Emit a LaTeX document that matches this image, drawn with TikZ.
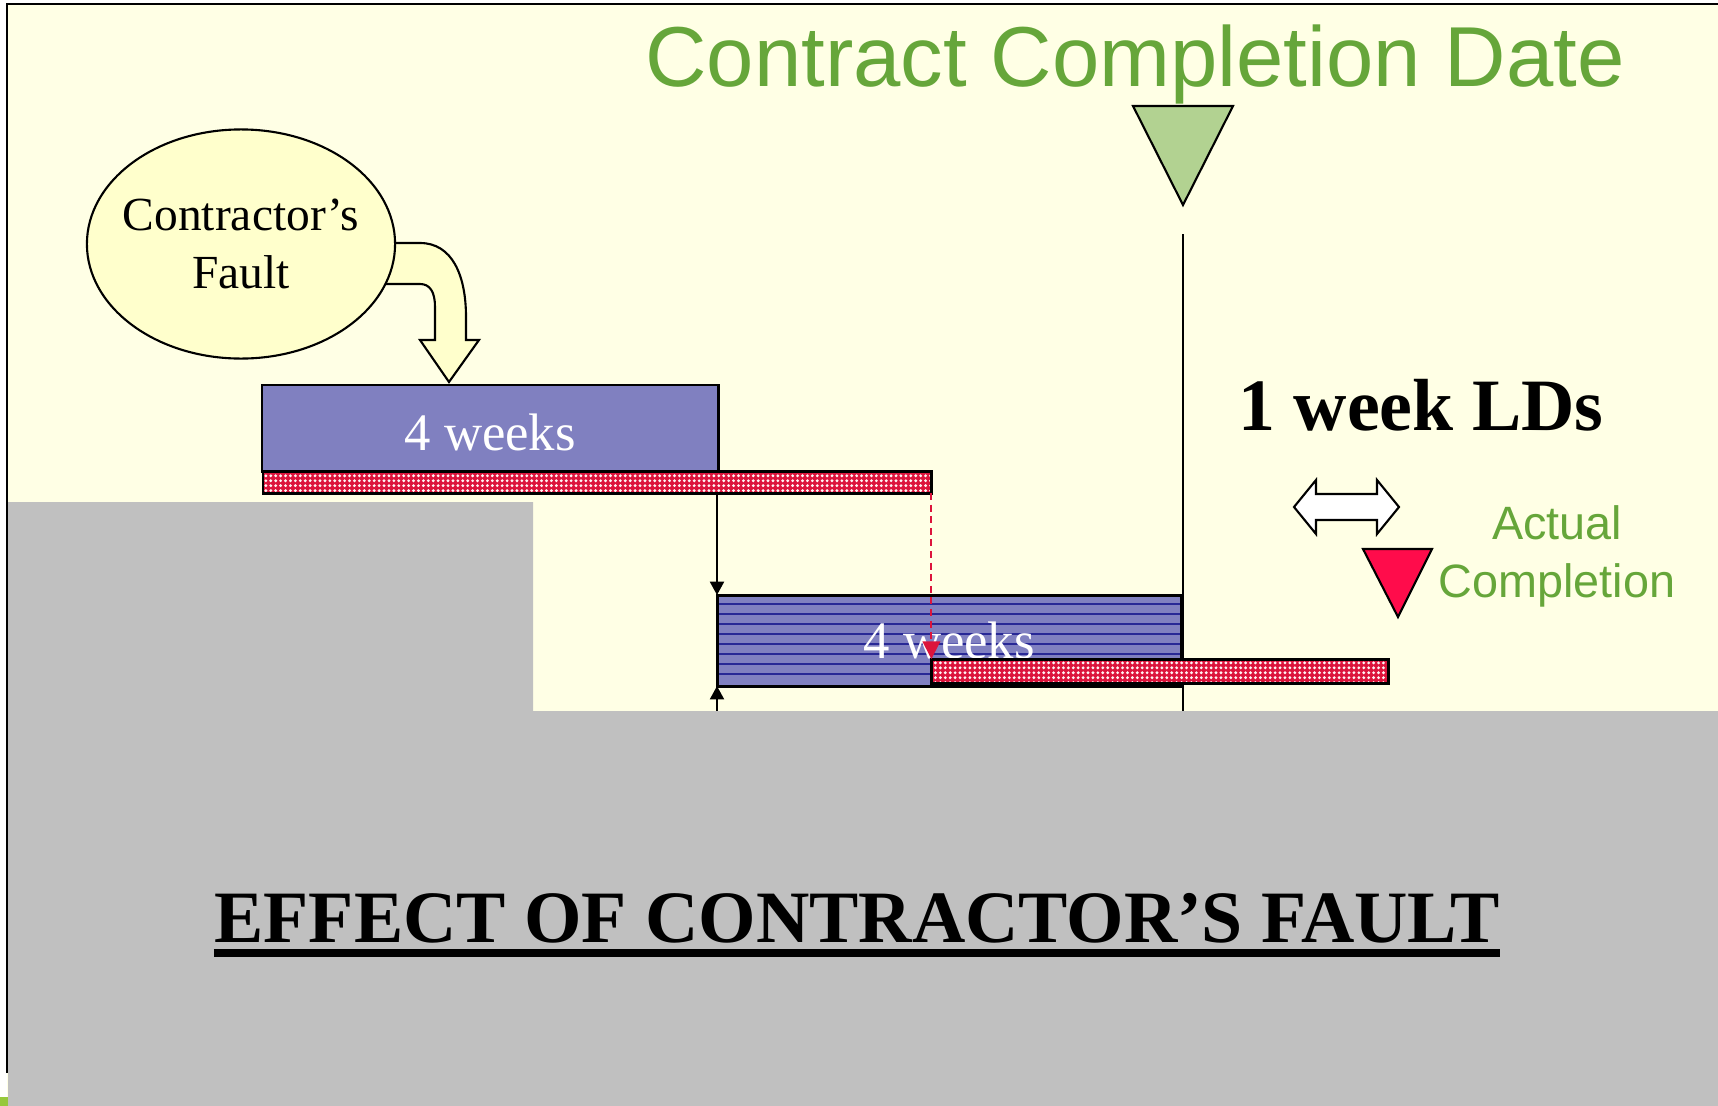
\documentclass[tikz,border=0pt]{standalone}
\usepackage{fontspec}
\setmainfont{Liberation Serif}
\newfontfamily\arialfont{Liberation Sans}
\usetikzlibrary{arrows.meta,shapes.geometric,patterns.meta}
\definecolor{paper}{RGB}{255,255,229}
\definecolor{slate}{RGB}{192,192,192}
\definecolor{sage}{RGB}{102,166,58}
\definecolor{palesage}{RGB}{178,210,145}
\definecolor{taskblue}{RGB}{128,128,192}
\definecolor{rulerblue}{RGB}{40,40,150}
\definecolor{delayred}{RGB}{220,20,60}
\definecolor{actualred}{RGB}{255,12,75}
\definecolor{faultcream}{RGB}{255,255,204}
\definecolor{lime}{RGB}{150,200,60}
\tikzset{
  >={Triangle[length=3.8pt,width=4pt]},
  taskbox/.style={draw=black,line width=0.85pt,fill=taskblue,anchor=north west,
    inner sep=0pt,outer sep=0pt,text=white,font=\fontsize{15pt}{18pt}\selectfont},
  ruled/.style={path picture={
    \foreach \dy in {9,19,...,79}
      \draw[rulerblue,line width=0.3pt]
        ([yshift=-\dy*0.01cm]path picture bounding box.north west) --
        ([yshift=-\dy*0.01cm]path picture bounding box.north east);
  }},
  delaybar/.style={draw=black,line width=0.85pt,anchor=north west,inner sep=0pt,outer sep=0pt,
    preaction={fill=delayred},pattern={Dots[radius=0.45pt,distance=1.4pt]},
    pattern color=white!85!pink},
  milestone/.style={draw=black,line width=0.6pt,fill=#1,line join=miter},
  milestone/.default=palesage,
  flow/.style={->,line width=0.55pt,draw=black},
  slip/.style={-{Triangle[length=5pt,width=5pt]},line width=0.55pt,draw=delayred,
    dash pattern=on 2pt off 1.3pt},
  caption/.style={anchor=base,inner sep=0pt,font=\bfseries\fontsize{21pt}{25pt}\selectfont},
  greentag/.style={inner sep=0pt,text=sage,align=center,font=\arialfont#1},
}
\begin{document}
\begin{tikzpicture}[x=0.01cm,y=-0.01cm]
  \useasboundingbox (0,0) rectangle (1718,1106);
  % slide background
  \fill[white] (0,0) rectangle (1718,1106);
  \fill[paper] (7,4) rectangle (1718,1106);
  \draw[line width=0.6pt] (6,4) -- (1718,4) (7,4) -- (7,1073);
  \fill[lime] (0,1097) rectangle (8,1106);
  % contract completion date
  \node[greentag=\fontsize{24.2pt}{30pt}\selectfont,anchor=base] (ccdlabel) at (1135,87) {Contract Completion Date};
  \draw[milestone] (1133,106) -- (1233,106) -- (1183,205) -- cycle;
  \coordinate (ccdtop) at (1183,234);
  \coordinate (ccdfoot) at (1183,711);
  \draw[line width=0.6pt] (ccdtop) -- (ccdfoot);
  % contractor's fault
  \draw[line width=0.6pt,fill=faultcream] (370,243) -- (420,243) .. controls (452,243) and (466,275) .. (466,317)
    -- (466,340) -- (479,340) -- (449,382) -- (420,340) -- (435,340) -- (435,307)
    .. controls (435,292) and (430,284) .. (420,284) -- (360,284) -- cycle;
  \node[ellipse,draw=black,line width=0.6pt,fill=faultcream,minimum width=3.08cm,minimum height=2.29cm,
    inner xsep=-0.2cm,inner ysep=0pt,align=center,font=\fontsize{13.5pt}{16.5pt}\selectfont] (fault) at (241,244) {Contractor’s\\Fault};
  % programme
  \node[taskbox,minimum width=4.56cm,minimum height=0.86cm,text height=0.46cm] (box1) at (262,385) {4 weeks};
  \node[delaybar,minimum width=6.68cm,minimum height=0.22cm] (bar1) at (263,471) {};
  \node[taskbox,ruled,minimum width=4.64cm,minimum height=0.91cm] (box2) at (717,595) {4 weeks};
  \node[delaybar,minimum width=4.57cm,minimum height=0.24cm] (bar2) at (931,659) {};
  \draw[flow] (box2.north west |- bar1.south) -- (box2.north west);
  \draw[slip] (bar1.south east) -- (bar1.south east |- bar2.north);
  \coordinate (rise) at (717,711);
  \draw[flow] (rise) -- (box2.south west);
  % liquidated damages
  \node[caption] (ldlabel) at (1421,430) {1 week LDs};
  \draw[line width=0.6pt,fill=white] (1294,507) -- (1316,480) -- (1316,494) -- (1377,494) -- (1377,480)
    -- (1399,507) -- (1377,534) -- (1377,520) -- (1316,520) -- (1316,534) -- cycle;
  \draw[milestone=actualred] (1363,549) -- (1432,549) -- (1398,617) -- cycle;
  \node[greentag=\fontsize{13.3pt}{16.5pt}\selectfont] (actuallabel) at (1557,556) {Actual\\Completion};
  % lower panel
  \fill[slate] (8,502) -- (533,502) -- (533,711) -- (1718,711) -- (1718,1106) -- (8,1106) -- cycle;
  \node[caption] (effect) at (857,942) {EFFECT OF CONTRACTOR’S FAULT};
  \draw[line width=2.4pt] ([yshift=-0.11cm]effect.base west) -- ([yshift=-0.11cm]effect.base east);
\end{tikzpicture}
\end{document}
